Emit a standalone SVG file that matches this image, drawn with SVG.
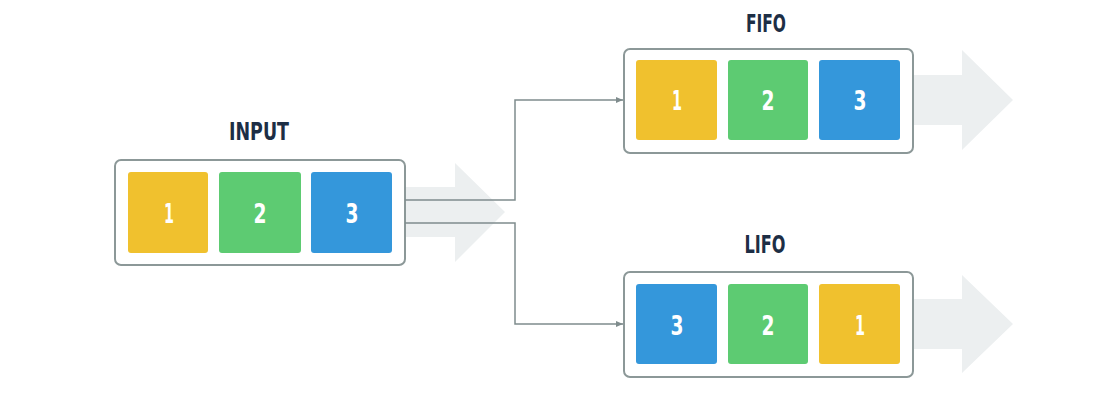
<svg xmlns="http://www.w3.org/2000/svg" width="1120" height="400" viewBox="0 0 1120 400">
<defs>
<marker id="ah" markerWidth="8" markerHeight="8" refX="7" refY="4" orient="auto" markerUnits="userSpaceOnUse">
<path d="M0,1 L7,4 L0,7 Z" fill="#7f8c8d"/>
</marker>
<style>
.box{fill:#ffffff;stroke:#8c9898;stroke-width:2}
.flow{fill:#eceff0}
.y{fill:#f0c12e}
.g{fill:#5dcb72}
.b{fill:#3497db}
.num{font-family:"DejaVu Sans Condensed","DejaVu Sans",sans-serif;font-weight:bold;font-size:27px;fill:#ffffff;text-anchor:middle}
.title{font-family:"DejaVu Sans Condensed","DejaVu Sans",sans-serif;font-weight:bold;font-size:25px;fill:#1d2e45;text-anchor:middle}
.conn{fill:none;stroke:#7f8c8d;stroke-width:1.5}
</style>
</defs>
<rect width="1120" height="400" fill="#ffffff"/>

<g id="input">
<path class="flow" d="M128,187 H455 V163 L505,212 L455,262 V237 H128 Z"/>
<rect class="box" x="115" y="160" width="290" height="105" rx="6"/>
<rect class="y" x="128" y="172" width="80" height="81" rx="3"/>
<rect class="g" x="219" y="172" width="82" height="81" rx="3"/>
<rect class="b" x="311" y="172" width="81" height="81" rx="3"/>
<text class="num" x="169" y="223" textLength="10" lengthAdjust="spacingAndGlyphs">1</text>
<text class="num" x="260" y="223" textLength="13" lengthAdjust="spacingAndGlyphs">2</text>
<text class="num" x="352" y="223" textLength="13" lengthAdjust="spacingAndGlyphs">3</text>
<text class="title" x="259" y="140" textLength="60" lengthAdjust="spacingAndGlyphs">INPUT</text>
</g>

<g id="fifo">
<path class="flow" d="M636,75 H962 V50 L1013,100 L962,150 V125 H636 Z"/>
<rect class="box" x="624" y="49" width="289" height="104" rx="6"/>
<rect class="y" x="636" y="60" width="81" height="80" rx="3"/>
<rect class="g" x="728" y="60" width="80" height="80" rx="3"/>
<rect class="b" x="819" y="60" width="81" height="80" rx="3"/>
<text class="num" x="677" y="110" textLength="10" lengthAdjust="spacingAndGlyphs">1</text>
<text class="num" x="768" y="110" textLength="13" lengthAdjust="spacingAndGlyphs">2</text>
<text class="num" x="860" y="110" textLength="13" lengthAdjust="spacingAndGlyphs">3</text>
<text class="title" x="766" y="32" textLength="40" lengthAdjust="spacingAndGlyphs">FIFO</text>
</g>

<g id="lifo">
<path class="flow" d="M636,299 H962 V275 L1013,324 L962,373 V349 H636 Z"/>
<rect class="box" x="624" y="272" width="289" height="105" rx="6"/>
<rect class="b" x="636" y="284" width="81" height="80" rx="3"/>
<rect class="g" x="728" y="284" width="80" height="80" rx="3"/>
<rect class="y" x="819" y="284" width="81" height="80" rx="3"/>
<text class="num" x="677" y="335" textLength="13" lengthAdjust="spacingAndGlyphs">3</text>
<text class="num" x="768" y="335" textLength="13" lengthAdjust="spacingAndGlyphs">2</text>
<text class="num" x="860" y="335" textLength="10" lengthAdjust="spacingAndGlyphs">1</text>
<text class="title" x="765" y="253" textLength="41" lengthAdjust="spacingAndGlyphs">LIFO</text>
</g>

<g id="connectors">
<path class="conn" d="M405,200 H515 V100 H623" marker-end="url(#ah)"/>
<path class="conn" d="M405,223 H515 V324 H623" marker-end="url(#ah)"/>
</g>
</svg>
